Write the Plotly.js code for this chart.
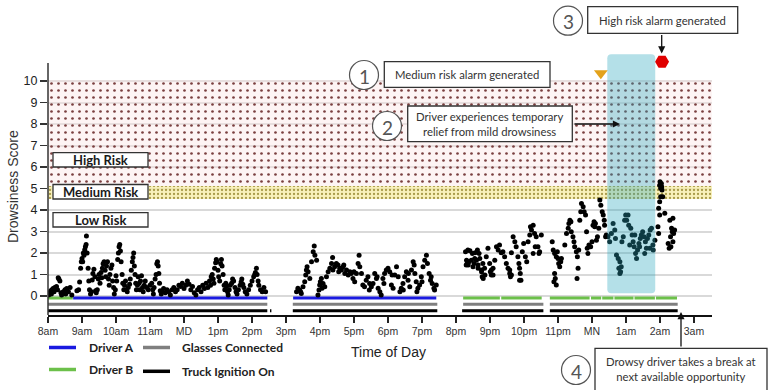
<!DOCTYPE html>
<html><head><meta charset="utf-8">
<script src="https://cdn.plot.ly/plotly-3.0.1.min.js"></script>
<style>html,body{margin:0;padding:0;background:#fff}#chart{width:768px;height:390px}</style>
</head><body><div id="chart"></div>
<script>
// ---------- DATA ----------
const tickHours = [8,9,10,11,12,13,14,15,16,17,18,19,20,21,22,23,24,25,26,27];
const tickLabels = ['8am','9am','10am','11am','MD','1pm','2pm','3pm','4pm','5pm','6pm','7pm','8pm','9pm','10pm','11pm','MN','1am','2am','3am'];
const scoreTicks = [0,1,2,3,4,5,6,7,8,9,10];

// clock hour (hours past midnight of day 1) and drowsiness score of each sample
const sampleHours = [
 8.02,8.05,8.08,8.1,8.12,8.15,8.18,8.2,8.25,8.28,8.3,8.32,8.35,8.38,8.4,8.45,8.5,8.52,8.55,8.6,8.65,8.7,
 8.85,8.9,8.93,8.96,8.98,9.0,9.02,9.04,9.06,9.08,9.1,9.12,9.13,9.15,9.18,9.2,9.22,9.25,9.28,9.3,9.32,9.35,9.38,9.4,9.42,9.45,9.48,9.5,
 9.53,9.56,9.58,9.6,9.62,9.65,9.68,9.7,9.72,9.75,9.78,9.8,9.82,9.85,9.88,9.9,9.93,9.95,9.98,10.0,10.02,10.05,10.07,10.09,10.11,10.13,10.15,10.18,10.2,10.23,
 10.25,10.28,10.3,10.33,10.36,10.4,10.42,10.45,10.48,10.5,10.52,10.54,10.56,10.58,10.6,10.63,10.65,10.68,10.7,10.72,10.75,10.78,10.8,10.83,10.86,10.9,10.95,11.0,11.05,11.08,
 11.1,11.12,11.15,11.18,11.2,11.22,11.24,11.26,11.28,11.3,11.33,11.36,11.4,11.45,11.5,11.55,11.6,11.65,11.7,11.75,11.8,11.85,11.9,11.95,12.0,12.05,12.1,12.15,12.2,12.25,
 12.3,12.35,12.4,12.45,12.5,12.55,12.6,12.65,12.7,12.75,12.78,12.8,12.83,12.86,12.88,12.9,12.93,12.95,12.97,13.0,13.02,13.05,13.08,13.1,13.12,13.15,13.18,13.2,13.23,13.25,
 13.28,13.3,13.33,13.36,13.4,13.43,13.46,13.5,13.53,13.56,13.6,13.65,13.68,13.7,13.73,13.76,13.8,13.85,13.9,13.95,14.0,14.05,14.08,14.1,14.13,14.15,14.18,14.2,14.25,14.3,14.35,14.4,
 15.31,15.35,15.4,15.45,15.5,15.55,15.58,15.6,15.62,15.65,15.7,15.75,15.8,15.83,15.85,15.9,15.94,15.97,15.99,16.01,16.04,16.09,16.14,16.19,16.24,16.29,16.34,16.37,16.38,16.43,
 16.48,16.53,16.58,16.63,16.68,16.73,16.78,16.83,16.88,16.92,16.97,17.02,17.07,17.12,17.15,17.17,17.22,17.26,17.31,17.36,17.41,17.46,17.51,17.56,17.61,17.66,17.71,17.76,17.8,17.85,
 17.9,17.95,18.0,18.05,18.1,18.15,18.2,18.25,18.3,18.35,18.39,18.44,18.49,18.54,18.59,18.64,18.69,18.74,18.77,18.79,18.83,18.88,18.93,18.98,19.03,19.08,19.13,19.16,19.21,19.25,
 19.3,19.35,19.37,19.42,15.43,16.06,16.55,16.7,17.0,17.45,17.68,17.88,18.12,18.45,18.6,18.85,19.0,19.27,
 20.28,20.3,20.33,20.35,20.38,20.41,20.45,20.48,20.5,20.53,20.56,20.6,20.63,20.65,20.68,20.7,20.75,20.77,20.79,20.84,20.89,20.94,20.99,21.01,21.04,21.09,21.14,21.19,21.24,21.28,
 21.33,21.38,21.43,21.48,21.53,21.58,21.6,21.63,21.68,21.73,21.77,21.82,21.85,21.87,21.89,21.91,21.95,21.99,22.04,22.08,22.12,22.17,22.19,22.22,22.27,22.31,22.36,22.41,22.44,22.46,
 22.51,22.27,22.33,20.31,20.36,20.55,20.65,20.75,20.8,20.85,21.04,21.09,21.58,21.63,21.87,
 22.83,22.86,22.9,22.95,22.98,23.0,23.02,23.05,23.08,23.1,22.9,22.92,22.95,22.88,
 23.2,23.25,23.3,23.32,23.35,23.38,23.39,23.44,23.47,23.49,23.54,23.57,23.59,23.56,23.61,23.64,23.67,23.69,23.74,23.77,23.81,23.84,23.86,23.88,23.91,23.96,24.0,24.03,24.06,24.08,
 24.1,24.13,24.16,24.2,24.23,24.26,24.3,24.33,24.36,24.37,24.4,24.42,
 24.47,24.52,24.57,24.62,24.67,24.69,24.72,24.77,24.82,24.79,24.84,24.82,24.86,24.88,24.92,24.96,24.99,25.02,25.06,25.08,25.14,25.18,25.21,25.24,25.28,25.31,25.34,25.38,25.42,25.45,
 25.49,25.53,25.57,25.6,25.63,25.67,25.71,25.75,25.79,25.8,25.85,25.4,25.55,25.7,25.26,25.11,
 25.99,26.02,26.04,26.06,26.02,25.99,25.96,25.99,25.94,25.96,26.29,26.34,26.36,26.31,26.38,26.32,26.4,26.0,26.05,26.08,26.14,26.38,26.43,26.24,26.27
];
const sampleScores = [
 0.05,0.15,0.25,0.1,0.3,0.35,0.2,0.4,0.45,0.3,0.85,0.8,0.7,0.15,0.05,0.2,0.3,0.1,0.35,0.2,0.4,0.05,
 0.25,0.3,0.65,1.3,1.6,1.75,1.6,2.0,1.9,2.15,2.3,2.4,2.8,2.0,1.3,0.7,0.3,0.1,0.2,0.75,1.05,1.25,0.9,0.25,0.15,0.3,0.8,1.0,
 0.6,1.1,0.85,1.3,1.5,1.6,1.2,0.9,1.4,1.6,0.8,0.5,1.0,1.3,1.45,0.7,0.4,0.1,0.3,0.95,0.7,1.7,2.0,2.3,2.4,2.1,1.6,1.0,0.6,0.3,
 0.5,0.7,0.3,0.2,0.4,0.55,0.8,1.2,1.6,1.8,2.0,1.4,1.0,0.6,0.3,0.5,0.9,0.6,0.3,0.7,0.95,0.4,0.2,0.5,0.7,0.4,0.3,0.5,0.6,0.3,
 0.1,0.4,0.8,1.0,1.5,1.6,1.4,1.05,0.6,0.25,0.1,0.2,0.35,0.15,0.3,0.2,0.05,0.3,0.4,0.2,0.3,0.5,0.45,0.6,0.35,0.5,0.7,0.55,0.3,0.45,
 0.15,0.05,0.3,0.4,0.2,0.5,0.35,0.6,0.4,0.7,0.5,0.9,1.0,0.8,0.6,1.3,1.55,1.7,1.6,1.2,0.9,0.7,1.5,1.7,1.4,1.0,0.5,0.3,0.6,0.45,
 0.2,0.05,0.3,0.5,0.6,0.8,0.7,0.4,0.2,0.1,0.3,0.5,0.65,0.8,0.55,0.4,0.2,0.1,0.3,0.5,0.7,0.9,1.0,1.1,1.3,1.0,0.7,0.5,0.3,0.2,0.4,0.2,
 0.2,0.36,0.28,0.12,0.43,0.67,0.98,1.21,1.36,1.13,0.82,1.6,2.06,2.33,1.9,1.67,0.05,0.28,0.51,0.67,0.82,0.59,0.43,0.9,1.13,1.29,1.52,1.8,1.21,1.36,
 1.52,1.44,1.29,1.21,1.36,1.05,1.21,0.98,1.13,1.05,0.82,0.67,1.05,1.52,1.9,1.36,1.05,0.51,0.43,0.74,0.9,0.59,0.43,0.59,1.05,0.82,0.36,0.2,0.05,0.82,
 1.05,1.21,1.29,1.13,0.51,0.36,0.98,1.36,0.9,0.2,0.36,0.59,0.9,1.13,0.74,0.43,1.21,1.6,1.44,1.05,0.67,0.36,0.51,0.9,1.36,1.67,1.9,1.52,1.05,0.74,
 0.59,0.36,0.28,0.51,0.2,0.36,1.13,1.44,1.13,0.28,0.9,0.59,0.98,0.28,1.05,0.2,0.67,0.9,
 2.06,1.44,1.52,2.14,1.6,2.11,1.67,1.98,1.36,1.52,2.02,1.67,2.14,1.29,1.98,1.75,1.13,0.9,1.52,1.29,1.83,2.22,1.52,1.13,0.98,1.29,1.67,2.3,2.14,2.37,
 2.02,2.06,1.83,1.52,1.29,1.05,0.9,2.02,2.76,2.53,2.3,1.83,1.52,1.29,1.05,0.74,2.06,2.45,1.83,1.6,2.53,2.84,3.22,3.07,3.3,2.91,2.76,2.3,1.98,2.06,
 2.84,1.98,2.3,1.67,1.44,1.75,1.44,1.21,0.82,0.98,1.21,0.98,1.21,0.98,0.74,
 2.53,2.14,1.98,1.83,2.06,1.75,1.52,1.36,1.6,1.75,1.05,0.82,0.51,0.67,
 2.37,2.91,3.15,3.38,3.53,3.46,2.99,2.76,2.53,2.3,2.06,1.83,1.29,0.82,2.14,3.53,3.92,4.31,4.15,3.92,3.77,2.99,2.22,1.98,2.37,2.3,2.53,3.3,3.46,3.22,
 3.38,2.6,2.76,3.15,4.47,4.23,3.92,3.77,3.53,3.3,2.76,2.84,
 2.76,2.53,2.91,3.38,3.07,2.68,1.91,1.75,1.6,1.29,1.13,1.05,1.36,2.53,2.76,3.53,3.77,3.53,3.77,3.3,3.15,2.84,2.53,2.3,1.98,1.75,2.14,2.45,2.68,2.84,
 2.99,2.76,2.53,2.22,2.68,2.84,3.07,3.15,2.37,2.14,2.6,2.3,1.98,2.22,2.84,2.37,
 5.16,5.01,5.24,4.93,4.62,4.39,4.08,3.77,3.22,2.91,3.53,3.15,2.99,2.76,2.53,2.3,2.91,5.32,5.09,4.62,3.85,3.62,3.07,2.45,2.22
];

// [start, end] clock hours of each status bar
const driverASpans = [[8.74,14.45],[15.21,19.42]];
const driverBSpans = [[8.0,8.73],[20.21,21.29],[21.33,22.52],[22.76,23.93],[23.97,24.27],[24.30,24.63],[24.66,25.22],[25.25,25.85],[25.88,26.50]];
const glassesSpans = [[8.0,14.45],[15.2,19.45],[20.21,22.57],[22.76,26.52]];
const ignitionSpans = [[8.0,14.45],[14.53,14.57],[15.2,19.45],[20.18,22.57],[22.76,26.52]];

const highRiskBand = [5.12, 10.05];
const mediumRiskBand = [4.5, 5.12];
const mediumAlarm = {hour: 24.26, score: 10.36};
const highAlarm = {hour: 26.06, score: 10.9};
const reliefWindow = [24.45, 25.86];

const riskLabels = ['High Risk', 'Medium Risk', 'Low Risk'];
const noteTexts = ['Medium risk alarm generated',
  'Driver experiences temporary<br>relief from mild drowsiness',
  'High risk alarm generated',
  'Drowsy driver takes a break at<br>next available opportunity'];
const legendLabels = ['Driver A', 'Glasses Connected', 'Driver B', 'Truck Ignition On'];

// ---------- LAYOUT HELPERS ----------
const W = 768, H = 390, M = {l:48, r:56, t:52, b:75};
const PW = W - M.l - M.r, PH = H - M.t - M.b;
const PXY = 21.5;                       // pixels per score unit
const YMIN = -0.88, YAXIS_TOP = 10.84, YMAX = YMIN + PH / PXY;
const fx = px => (px - M.l) / PW;
const fy = py => (H - M.b - py) / PH;
const X0 = tickHours[0], X1 = tickHours[0] + PW / 34;

function spanLine(spans, level, color, width) {
  const x = [], y = [];
  spans.forEach(s => { x.push(s[0], s[1], null); y.push(level, level, null); });
  return {type:'scatter', mode:'lines', x, y, line:{color, width}, hoverinfo:'skip'};
}

const traces = [
  {type:'bar', x:[(X0+X1)/2], y:[highRiskBand[1]-highRiskBand[0]], base:[highRiskBand[0]], width:[X1-X0],
   marker:{color:'rgba(0,0,0,0)', line:{width:0},
     pattern:{shape:'.', size:7, solidity:0.12, fgcolor:'#7a4040', bgcolor:'rgba(252,232,232,0.45)', fillmode:'replace'}},
   hoverinfo:'skip'},
  {type:'bar', x:[(X0+X1)/2], y:[mediumRiskBand[1]-mediumRiskBand[0]], base:[mediumRiskBand[0]], width:[X1-X0],
   marker:{color:'rgba(0,0,0,0)', line:{width:0},
     pattern:{shape:'.', size:4, solidity:0.25, fgcolor:'#a89a48', bgcolor:'rgba(247,238,170,0.8)', fillmode:'replace'}},
   hoverinfo:'skip'},
  spanLine(driverBSpans, -0.09, '#6cc04a', 3),
  spanLine(driverASpans, -0.09, '#1a1ae0', 3),
  spanLine(glassesSpans, -0.38, '#7f7f7f', 3),
  spanLine(ignitionSpans, -0.68, '#000000', 3),
  {type:'scatter', mode:'markers', x:sampleHours, y:sampleScores,
   marker:{color:'#000', size:5}, hoverinfo:'skip'},
  {type:'scatter', mode:'markers', x:[mediumAlarm.hour], y:[mediumAlarm.score], cliponaxis:false,
   marker:{symbol:'triangle-down', color:'#e3a21a', size:12}, hoverinfo:'skip'},
  {type:'scatter', mode:'markers', x:[highAlarm.hour], y:[highAlarm.score], cliponaxis:false,
   marker:{symbol:'hexagon2', color:'#e00000', size:14}, hoverinfo:'skip'}
];

const shapes = [], annotations = [];
const labelFont = {family:'Lato, DejaVu Sans, sans-serif', size:13, color:'#1a1a1a', weight:'bold'};
const noteFont = {family:'Lato, Open Sans, sans-serif', size:11.3, color:'#333'};

// left axis line (stops at the top of the score scale)
shapes.push({type:'line', xref:'paper', yref:'y', x0:0, x1:0, y0:YMIN, y1:YAXIS_TOP, line:{color:'#333', width:1.5}});

// risk label boxes
const riskBoxes = [[152.7,167],[184.5,199],[212.7,227]];
riskLabels.forEach((t,i) => {
  const b = riskBoxes[i];
  shapes.push({type:'rect', xref:'paper', yref:'paper', x0:fx(53), x1:fx(148), y0:fy(b[1]), y1:fy(b[0]),
    fillcolor:'#fff', line:{color:'#333', width:1.3}});
  annotations.push({xref:'paper', yref:'paper', x:fx(100.5), y:fy((b[0]+b[1])/2), text:'<b>'+t+'</b>',
    showarrow:false, font:labelFont, xanchor:'center', yanchor:'middle'});
});

// note boxes
const noteBoxes = [[384.3,61.7,550,87.3],[407.7,106,572.3,141.7],[587.7,6.7,737.7,33.3],[595,348.3,767,392]];
noteTexts.forEach((t,i) => {
  const b = noteBoxes[i];
  shapes.push({type:'rect', xref:'paper', yref:'paper', x0:fx(b[0]), x1:fx(b[2]), y0:fy(b[3]), y1:fy(b[1]),
    fillcolor:'#fff', line:{color:'#333', width:1.3}});
});
const noteCenters = [[467,74.5],[490,124],[662.7,20],[681,368.5]];
noteTexts.forEach((t,i) => {
  annotations.push({xref:'paper', yref:'paper', x:fx(noteCenters[i][0]), y:fy(noteCenters[i][1]), text:t,
    showarrow:false, font:noteFont, xanchor:'center', yanchor:'middle', align:'center'});
});

// number circles
const circles = [[364,75],[387,126],[568,20.7],[576,370]];
circles.forEach((c,i) => {
  const r = 14.5;
  shapes.push({type:'circle', xref:'paper', yref:'paper', x0:fx(c[0]-r), x1:fx(c[0]+r), y0:fy(c[1]+r), y1:fy(c[1]-r),
    fillcolor:'#fff', line:{color:'#555', width:1.2}});
  annotations.push({xref:'paper', yref:'paper', x:fx(c[0]), y:fy(c[1]+1), text:String(i+1), showarrow:false,
    font:{family:'Lato, Open Sans, sans-serif', size:19, color:'#555'}, xanchor:'center', yanchor:'middle'});
});

// arrows
const arrows = [[620,124,-47,0],[661.7,53.5,0,-20],[681,312,0,36]];
arrows.forEach(a => annotations.push({xref:'paper', yref:'paper', x:fx(a[0]), y:fy(a[1]), ax:a[2], ay:a[3],
  axref:'pixel', ayref:'pixel', text:'', showarrow:true, arrowhead:2, arrowsize:1.1, arrowwidth:1.3, arrowcolor:'#111'}));

// relief window highlight (rounded)
(function(){
  const x0 = fx(M.l + (reliefWindow[0]-X0)*34), x1 = fx(M.l + (reliefWindow[1]-X0)*34);
  const y0 = fy(293.3), y1 = fy(54.3);
  const rx = 4/PW, ry = 4/PH;
  const p = `M${x0+rx},${y1} L${x1-rx},${y1} Q${x1},${y1} ${x1},${y1-ry} L${x1},${y0+ry} Q${x1},${y0} ${x1-rx},${y0} ` +
            `L${x0+rx},${y0} Q${x0},${y0} ${x0},${y0+ry} L${x0},${y1-ry} Q${x0},${y1} ${x0+rx},${y1} Z`;
  shapes.push({type:'path', xref:'paper', yref:'paper', path:p, fillcolor:'rgba(41,166,189,0.35)',
    line:{width:0}, layer:'above'});
})();

// legend
const legItems = [[49,347.5,'#1a1ae0',86.5,legendLabels[0]],[143,347.5,'#7f7f7f',180,legendLabels[1]],
                  [49,369.5,'#6cc04a',86.5,legendLabels[2]],[143,371.3,'#000',180,legendLabels[3]]];
legItems.forEach(l => {
  shapes.push({type:'line', xref:'paper', yref:'paper', x0:fx(l[0]), x1:fx(l[0]+27), y0:fy(l[1]), y1:fy(l[1]),
    line:{color:l[2], width:3.5}});
  annotations.push({xref:'paper', yref:'paper', x:fx(l[3]), y:fy(l[1]), text:'<b>'+l[4]+'</b>', showarrow:false,
    xanchor:'left', yanchor:'middle', font:{family:'Lato, Open Sans, sans-serif', size:12, color:'#222'}});
});

// axis titles
annotations.push({xref:'paper', yref:'paper', x:fx(389), y:fy(352), text:'Time of Day', showarrow:false,
  font:{family:'Liberation Sans, Arial, sans-serif', size:14, color:'#222'}, xanchor:'center', yanchor:'middle'});
annotations.push({xref:'paper', yref:'paper', x:fx(13), y:fy(187), text:'Drowsiness Score', showarrow:false, textangle:-90,
  font:{family:'Liberation Sans, Arial, sans-serif', size:14, color:'#333'}, xanchor:'center', yanchor:'middle'});

const layout = {
  width:W, height:H, margin:M, showlegend:false, barmode:'overlay', bargap:0,
  paper_bgcolor:'#fff', plot_bgcolor:'#fff',
  xaxis:{range:[X0,X1], tickvals:tickHours, ticktext:tickLabels, ticks:'outside', ticklen:6, tickwidth:1.3,
    tickcolor:'#222', showline:true, linecolor:'#111', linewidth:1.5, showgrid:false, zeroline:false,
    tickfont:{family:'Liberation Sans, Arial, sans-serif', size:10.5, color:'#333'}, fixedrange:true},
  yaxis:{range:[YMIN,YMAX], tickvals:scoreTicks, ticks:'outside', ticklen:7, tickwidth:1.3, tickcolor:'#333',
    showline:false, showgrid:true, gridcolor:'#d9d9d9', gridwidth:2, zeroline:false,
    tickfont:{family:'Liberation Sans, Arial, sans-serif', size:12.5, color:'#222'}, fixedrange:true},
  shapes, annotations
};
Plotly.newPlot('chart', traces, layout, {staticPlot:true, displayModeBar:false});
</script></body></html>
